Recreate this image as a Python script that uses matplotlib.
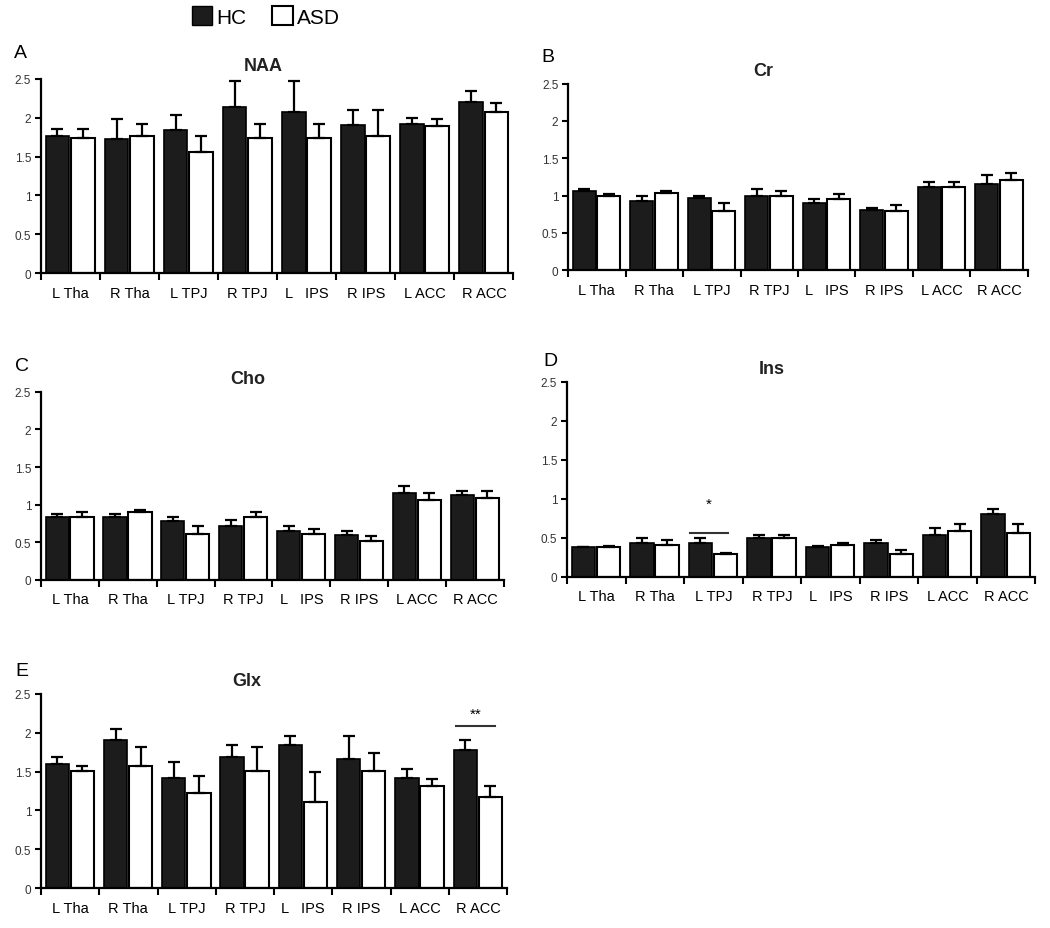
import numpy as np
import matplotlib.pyplot as plt
from matplotlib.patches import Patch

plt.rcParams['font.family'] = ['Liberation Sans', 'DejaVu Sans']

# ----------------------------- data ------------------------------------
regions = ['L Tha', 'R Tha', 'L TPJ', 'R TPJ', 'L   IPS', 'R IPS', 'L ACC', 'R ACC']

naa_hc = [1.77, 1.72, 1.84, 2.14, 2.08, 1.90, 1.92, 2.20]
naa_hc_err = [0.08, 0.26, 0.20, 0.33, 0.39, 0.20, 0.08, 0.15]
naa_asd = [1.74, 1.77, 1.56, 1.74, 1.74, 1.77, 1.89, 2.07]
naa_asd_err = [0.12, 0.15, 0.21, 0.18, 0.18, 0.33, 0.09, 0.12]

cr_hc = [1.06, 0.93, 0.97, 1.00, 0.90, 0.81, 1.12, 1.15]
cr_hc_err = [0.03, 0.06, 0.02, 0.09, 0.06, 0.02, 0.06, 0.12]
cr_asd = [0.99, 1.03, 0.80, 1.00, 0.96, 0.80, 1.12, 1.21]
cr_asd_err = [0.03, 0.03, 0.10, 0.06, 0.06, 0.07, 0.06, 0.09]

cho_hc = [0.84, 0.84, 0.78, 0.71, 0.65, 0.59, 1.16, 1.13]
cho_hc_err = [0.03, 0.03, 0.06, 0.09, 0.06, 0.06, 0.09, 0.05]
cho_asd = [0.84, 0.90, 0.61, 0.84, 0.61, 0.52, 1.06, 1.09]
cho_asd_err = [0.06, 0.03, 0.10, 0.06, 0.07, 0.06, 0.09, 0.09]

ins_hc = [0.38, 0.44, 0.44, 0.50, 0.38, 0.44, 0.53, 0.81]
ins_hc_err = [0.0, 0.06, 0.06, 0.03, 0.02, 0.03, 0.09, 0.06]
ins_asd = [0.38, 0.41, 0.29, 0.50, 0.41, 0.29, 0.59, 0.56]
ins_asd_err = [0.02, 0.06, 0.02, 0.03, 0.03, 0.06, 0.09, 0.12]

glx_hc = [1.60, 1.91, 1.42, 1.69, 1.84, 1.66, 1.42, 1.78]
glx_hc_err = [0.09, 0.14, 0.20, 0.15, 0.12, 0.30, 0.11, 0.12]
glx_asd = [1.51, 1.57, 1.23, 1.51, 1.11, 1.51, 1.32, 1.17]
glx_asd_err = [0.06, 0.24, 0.21, 0.30, 0.39, 0.23, 0.09, 0.15]

# significance: (x_start, x_end, y_line, y_text, text)
ins_sig = [1.6, 2.25, 0.56, 0.93, '*']
glx_sig = [6.62, 7.29, 2.09, 2.25, '**']

# ----------------------------- layout ----------------------------------
fig = plt.figure(figsize=(10.5, 9.29), dpi=100)

panels = [
    ('A', 'NAA', naa_hc, naa_hc_err, naa_asd, naa_asd_err, [0.039, 0.705, 0.450, 0.209], 0.47, None),
    ('B', 'Cr', cr_hc, cr_hc_err, cr_asd, cr_asd_err, [0.541, 0.708, 0.438, 0.201], 0.424, None),
    ('C', 'Cho', cho_hc, cho_hc_err, cho_asd, cho_asd_err, [0.039, 0.375, 0.441, 0.202], 0.447, None),
    ('D', 'Ins', ins_hc, ins_hc_err, ins_asd, ins_asd_err, [0.540, 0.378, 0.446, 0.210], 0.438, ins_sig),
    ('E', 'Glx', glx_hc, glx_hc_err, glx_asd, glx_asd_err, [0.039, 0.043, 0.444, 0.209], 0.442, glx_sig),
]
letter_pos = {'A': (20, 53), 'B': (548, 57), 'C': (22, 367), 'D': (550, 362), 'E': (22, 672)}

x = np.arange(len(regions))
w = 0.40

for letter, name, hc, hc_err, asd, asd_err, rect, tx, sig in panels:
    ax = fig.add_axes(rect)
    ax.bar(x - 0.22, hc, w, color='#1c1c1c', edgecolor='black', linewidth=1.2,
           yerr=[np.zeros(len(hc)), hc_err], error_kw=dict(ecolor='black', elinewidth=1.6, capsize=4, capthick=1.6))
    ax.bar(x + 0.21, asd, w, color='white', edgecolor='black', linewidth=1.5,
           yerr=[np.zeros(len(asd)), asd_err], error_kw=dict(ecolor='black', elinewidth=1.6, capsize=4, capthick=1.6))

    ax.set_xlim(-0.5, 7.5)
    ax.set_ylim(0, 2.5)
    ax.set_yticks([0, 0.5, 1, 1.5, 2, 2.5])
    ax.set_yticklabels(['0', '0.5', '1', '1.5', '2', '2.5'], fontsize=8.5, color='#333333')
    ax.set_xticks(np.arange(-0.5, 8.0, 1.0))
    ax.set_xticklabels([])
    ax.set_xticks(x, minor=True)
    ax.set_xticklabels(regions, minor=True, fontsize=10.5)
    ax.tick_params(axis='x', which='minor', length=0, pad=9)
    ax.tick_params(axis='x', which='major', length=5, width=1.5, direction='out')
    ax.tick_params(axis='y', length=4, width=1.5, direction='out', pad=3)
    for s in ['top', 'right']:
        ax.spines[s].set_visible(False)
    for s in ['left', 'bottom']:
        ax.spines[s].set_linewidth(1.6)

    ax.text(tx, 1.07, name, transform=ax.transAxes, ha='center', va='center',
            fontsize=13, fontweight='bold', color='#222222')
    lx, ly = letter_pos[letter]
    fig.text(lx / 1050, 1 - ly / 929, letter, ha='center', va='center', fontsize=14)

    if sig is not None:
        ax.plot([sig[0], sig[1]], [sig[2], sig[2]], color='#333333', linewidth=1.5)
        ax.text((sig[0] + sig[1]) / 2, sig[3], sig[4], ha='center', va='center', fontsize=11)

handles = [Patch(facecolor='#1c1c1c', edgecolor='black', label='HC'),
           Patch(facecolor='white', edgecolor='black', linewidth=1.5, label='ASD')]
fig.legend(handles=handles, loc='center', bbox_to_anchor=(0.253, 0.981), ncol=2, frameon=False,
           fontsize=15, handlelength=1.0, handleheight=1.0, handletextpad=0.2, columnspacing=1.2)

plt.savefig('out.png', dpi=100)
